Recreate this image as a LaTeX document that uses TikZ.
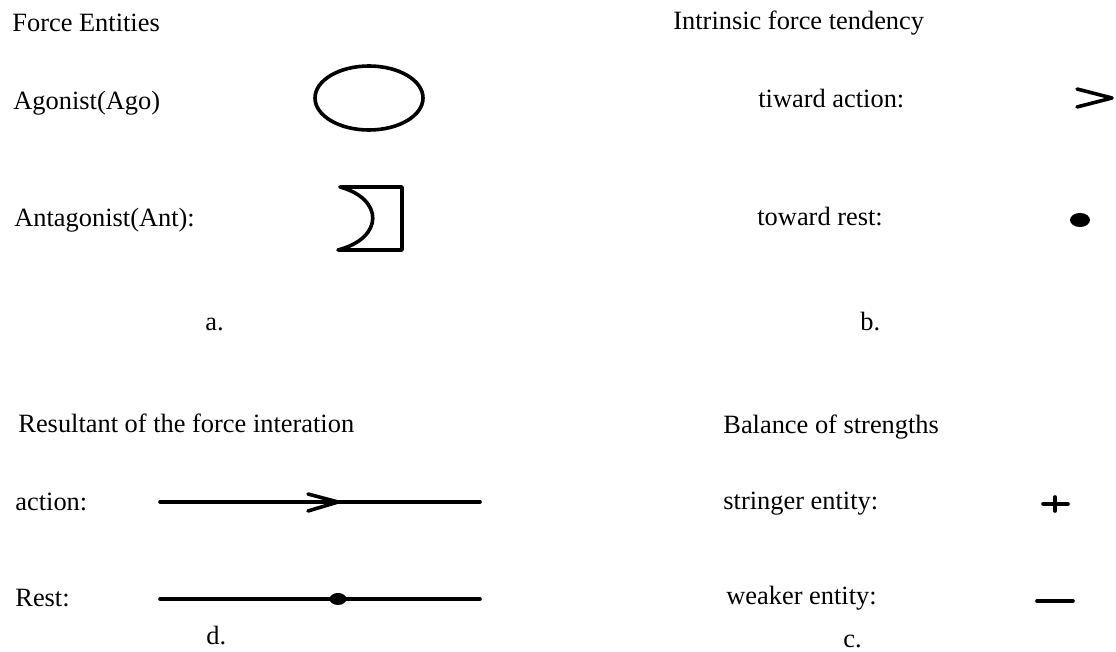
\documentclass[tikz,border=0pt]{standalone}
\usepackage{fontspec}
\setmainfont{Liberation Serif}

\begin{document}
\begin{tikzpicture}[x=0.5pt,y=-0.5pt,
    lbl/.style={anchor=base west,inner sep=0pt,font=\fontsize{13.2}{16}\selectfont},
    sym/.style={line width=1.8pt,line cap=round,line join=round}]
            \useasboundingbox (0,0) rectangle (1116,652);

            \node[lbl] (ent) at (12,32) {Force Entities};
            \node[lbl] (ago) at (13,110) {Agonist(Ago)};
            \node[lbl] (ant) at (14,227) {Antagonist(Ant):};
            \node[lbl] (a) at (205,331) {a.};

            \draw[sym] (369,98) ellipse [x radius=54, y radius=32];
            \draw[sym] (340,187) -- (402,187) -- (402,250) -- (338,250)
                .. controls (384,238) and (384,199) .. (340,187);

            \node[lbl] (tend) at (673,30) {Intrinsic force tendency};
            \node[lbl] (tact) at (758,108) {tiward action:};
            \node[lbl] (trest) at (757,226) {toward rest:};
            \node[lbl] (b) at (860,331) {b.};

            \draw[sym] (1077,89) -- (1112,98) -- (1077,107);
            \fill (1080,220) ellipse [x radius=10, y radius=7];

            \node[lbl] (res) at (18,433) {Resultant of the force interation};
            \node[lbl] (act) at (15,511) {action:};
            \node[lbl] (rest) at (15,607) {Rest:};
            \node[lbl] (d) at (206,645) {d.};

            \coordinate (actl) at (160,502);
            \coordinate (actr) at (480,502);
            \coordinate (acttip) at (338,502);
            \draw[sym] (actl) -- (actr);
            \draw[sym] ([shift={(-30,-8)}]acttip) -- (acttip) -- ([shift={(-30,9)}]acttip);

            \coordinate (restl) at (160,599);
            \coordinate (restr) at (480,599);
            \coordinate (restdot) at (338,599);
            \draw[sym] (restl) -- (restr);
            \fill (restdot) ellipse [x radius=8.5, y radius=6];

            \node[lbl] (bal) at (723,434) {Balance of strengths};
            \node[lbl] (str) at (723,510) {stringer entity:};
            \node[lbl] (weak) at (726,605) {weaker entity:};
            \node[lbl] (c) at (843,648) {c.};

            \draw[sym] (1043,504) -- (1068,504);
            \draw[sym] (1055,497) -- (1055,511);
            \draw[sym] (1037,601) -- (1073,601);
        \end{tikzpicture}
\end{document}
